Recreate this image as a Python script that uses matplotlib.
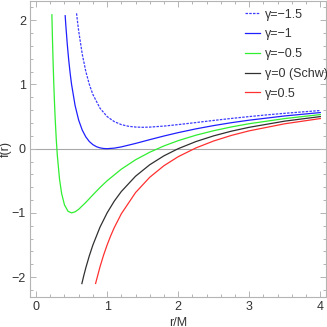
import matplotlib
matplotlib.use('Agg')
import matplotlib.pyplot as plt

plt.rcParams['font.family'] = ['Liberation Sans', 'DejaVu Sans']

# gamma values and legend labels
labels = ['\u03b3=\u22121.5', '\u03b3=\u22121', '\u03b3=\u22120.5', '\u03b3=0 (Schw)', '\u03b3=0.5']
colors = ['#3c3cff', '#2020ff', '#30ee30', '#303030', '#ff3030']

# values, f(r) against r/M
r_m15 = [0.57, 0.585, 0.6, 0.65, 0.7, 0.75, 0.8, 0.9, 1.0, 1.1, 1.2, 1.3, 1.4, 1.5, 1.6, 1.8,
         2.0, 2.25, 2.5, 2.75, 3.0, 3.25, 3.5, 3.75, 4.0]
f_m15 = [2.108, 1.964, 1.833, 1.473, 1.204, 1.0, 0.844, 0.630, 0.5, 0.422, 0.375, 0.349, 0.337,
         0.333, 0.336, 0.352, 0.375, 0.407, 0.44, 0.471, 0.5, 0.527, 0.551, 0.573, 0.594]

r_m1 = [0.41, 0.42, 0.44, 0.46, 0.48, 0.5, 0.55, 0.6, 0.65, 0.7, 0.75, 0.8, 0.85, 0.9, 0.95,
        1.0, 1.1, 1.2, 1.4, 1.6, 1.8, 2.0, 2.25, 2.5, 2.75, 3.0, 3.5, 4.0]
f_m1 = [2.071, 1.907, 1.620, 1.378, 1.174, 1.0, 0.669, 0.444, 0.290, 0.184, 0.111, 0.0625,
        0.031, 0.0123, 0.0028, 0.0, 0.0083, 0.0278, 0.0816, 0.1406, 0.1975, 0.25, 0.3086,
        0.36, 0.405, 0.444, 0.510, 0.5625]

r_m05 = [0.223, 0.23, 0.24, 0.25, 0.26, 0.27, 0.285, 0.3, 0.33, 0.36, 0.4, 0.45, 0.5, 0.55,
         0.6, 0.7, 0.8, 0.9, 1.0, 1.2, 1.4, 1.6, 1.8, 2.0, 2.25, 2.5, 2.75, 3.0, 3.5, 4.0]
f_m05 = [2.086, 1.756, 1.347, 1.0, 0.704, 0.451, 0.138, -0.111, -0.469, -0.698, -0.875,
         -0.975, -1.0, -0.983, -0.944, -0.837, -0.719, -0.605, -0.5, -0.319, -0.173, -0.055,
         0.043, 0.125, 0.210, 0.28, 0.339, 0.389, 0.469, 0.531]

r_0 = [0.645, 0.67, 0.7, 0.75, 0.8, 0.9, 1.0, 1.1, 1.2, 1.4, 1.6, 1.8, 2.0, 2.25, 2.5, 2.75,
       3.0, 3.5, 4.0]
f_0 = [-2.101, -1.985, -1.857, -1.667, -1.5, -1.222, -1.0, -0.818, -0.667, -0.429, -0.25,
       -0.111, 0.0, 0.111, 0.2, 0.273, 0.333, 0.429, 0.5]

r_p05 = [0.838, 0.9, 0.95, 1.0, 1.05, 1.1, 1.2, 1.4, 1.6, 1.8, 2.0, 2.25, 2.5, 2.75, 3.0,
         3.5, 4.0]
f_p05 = [-2.099, -1.840, -1.659, -1.5, -1.358, -1.231, -1.014, -0.684, -0.445, -0.265,
         -0.125, 0.012, 0.12, 0.207, 0.278, 0.388, 0.469]

xs = [r_m15, r_m1, r_m05, r_0, r_p05]
ys = [f_m15, f_m1, f_m05, f_0, f_p05]

fig = plt.figure(figsize=(3.27, 3.27), dpi=100)
ax = fig.add_axes([30 / 327, 30 / 327, 296 / 327, 296 / 327])

ax.axhline(0, color='#a8a8a8', lw=0.8, zorder=1)
for i in range(5):
    ls = (0, (2, 1)) if i == 0 else '-'
    ax.plot(xs[i], ys[i], color=colors[i], lw=0.9, ls=ls, label=labels[i], zorder=2)

ax.set_xlim(-0.085, 4.08)
ax.set_ylim(-2.31, 2.3)
ax.set_xticks([0, 1, 2, 3, 4])
ax.set_yticks([-2, -1, 0, 1, 2])
ax.set_xticklabels(['0', '1', '2', '3', '4'])
ax.set_yticklabels(['\u22122', '\u22121', '0', '1', '2'])
ax.set_xticks([i * 0.2 for i in range(21)], minor=True)
ax.set_yticks([-2.2 + i * 0.2 for i in range(23)], minor=True)

for s in ax.spines.values():
    s.set_color('#b4b4b4')
    s.set_linewidth(0.8)
ax.tick_params(which='both', direction='in', top=True, right=True, colors='#b4b4b4',
               labelcolor='#333333', labelsize=9, width=0.7)
ax.tick_params(which='major', length=4, pad=3)
ax.tick_params(which='minor', length=2)

ax.set_xlabel('r/M', fontsize=9, color='#333333')
ax.set_ylabel('f(r)', fontsize=9, color='#333333')
ax.xaxis.set_label_coords(0.5, -0.066)
ax.yaxis.set_label_coords(-0.062, 0.5)

ax.legend(loc='upper left', bbox_to_anchor=(236 / 327, 1.0), bbox_transform=fig.transFigure,
          frameon=False, fontsize=9, handlelength=1.2, handletextpad=0.45, labelspacing=0.62,
          borderaxespad=0.3, labelcolor='#333333')

plt.savefig('out.png', dpi=100)
